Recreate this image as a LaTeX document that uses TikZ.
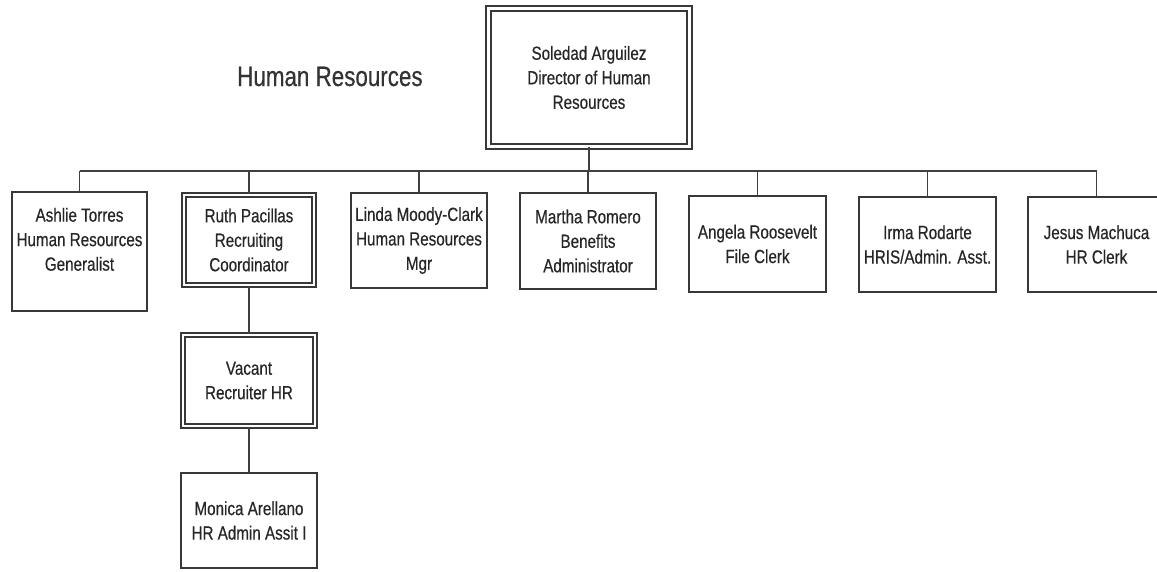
\documentclass[tikz,border=0pt]{standalone}
\usepackage{fontspec}
\newfontfamily\boxfont[FakeStretch=0.8,FakeBold=0.4]{Liberation Sans}
\begin{document}
\begin{tikzpicture}[x=1pt,y=-1pt,
  ink/.style={draw=black!78, line width=1.6pt},
  card/.style={ink, fill=white, rectangle, inner sep=0pt, align=center,
    text=black!85, font=\boxfont\fontsize{19}{24.5}\selectfont},
  dcard/.style={card, double=white, double distance=2.8pt, line width=1.9pt},
  wire/.style={draw=black!75, line width=1.5pt}]
\useasboundingbox (0,0) rectangle (1157,571);

% title
\node[anchor=base west, inner sep=0pt, text=black!80,
  font=\boxfont\fontsize{28}{32}\selectfont] (title) at (237,86) {Human Resources};

% director
\node[dcard, minimum width=201, minimum height=138] (dir) at (589,77.5)
  {Soledad Arguilez\\Director of Human\\Resources};

% direct reports
\node[card, minimum width=135, minimum height=119] (ash) at (79.5,251.5)
  {Ashlie Torres\\Human Resources\\Generalist\\\mbox{}};
\node[dcard, minimum width=130, minimum height=90] (ruth) at (249,240)
  {Ruth Pacillas\\Recruiting\\Coordinator};
\node[card, minimum width=136, minimum height=95] (linda) at (419,240.5)
  {Linda Moody-Clark\\Human Resources\\Mgr};
\node[card, minimum width=136, minimum height=96] (martha) at (588,241)
  {Martha Romero\\Benefits\\Administrator};
\node[card, minimum width=137, minimum height=96] (angela) at (757.5,244)
  {Angela Roosevelt\\File Clerk};
\node[card, minimum width=137, minimum height=95] (irma) at (927.5,244.5)
  {Irma Rodarte\\HRIS/Admin. Asst.};
\node[card, minimum width=137, minimum height=95] (jesus) at (1096.5,244.5)
  {Jesus Machuca\\HR Clerk};

% recruiting chain
\node[dcard, minimum width=132, minimum height=91] (vac) at (249,380.5)
  {Vacant\\Recruiter HR};
\node[card, minimum width=136, minimum height=95] (mon) at (249,520.5)
  {Monica Arellano\\HR Admin Assit I};

% horizontal bus
\coordinate (busL) at (79.5,171);
\coordinate (busR) at (1096.5,171);
\draw[wire] (busL) -- (busR);
\draw[wire] (dir.south) -- (dir.south |- busL);
\foreach \n in {ash,ruth,linda,martha,angela,irma,jesus}
  \draw[wire] (\n.north) -- (\n.north |- busL);

% vertical chain
\draw[wire] (ruth.south) -- (vac.north);
\draw[wire] (vac.south) -- (mon.north);
\end{tikzpicture}
\end{document}
